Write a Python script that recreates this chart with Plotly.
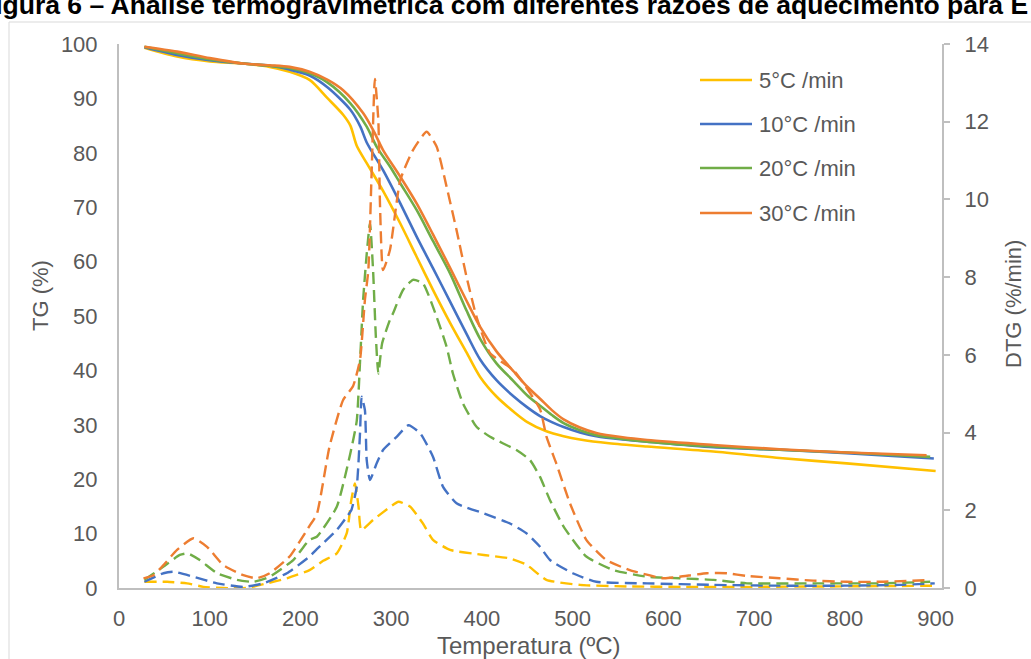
import plotly.graph_objects as go

# ---------------- data ----------------
series_names = ["5°C /min", "10°C /min", "20°C /min", "30°C /min"]
series_colors = ["#FFC000", "#4472C4", "#70AD47", "#ED7D31"]

# TG curves (left axis, %)
T_tg_5 = [28, 64, 100, 137, 166, 188, 210, 230, 247, 255, 262, 273, 291, 310, 328, 346, 365, 383, 398, 416, 435, 450, 471, 490, 508, 540, 582, 655, 728, 802, 900]
TG_5 = [99.3, 97.7, 96.8, 96.4, 95.8, 94.9, 93.4, 90.0, 87.0, 85.0, 81.3, 78.1, 73.0, 67.0, 60.9, 54.8, 48.7, 43.3, 38.8, 35.2, 32.4, 30.5, 28.8, 27.9, 27.3, 26.6, 26.0, 25.1, 23.9, 22.9, 21.5]

T_tg_10 = [28, 64, 100, 137, 166, 188, 210, 230, 255, 266, 273, 291, 310, 328, 346, 365, 383, 398, 416, 435, 450, 464, 477, 490, 508, 526, 555, 582, 655, 728, 802, 898]
TG_10 = [99.4, 98.0, 97.0, 96.4, 96.0, 95.3, 94.2, 92.0, 87.9, 84.8, 81.9, 76.8, 70.7, 64.6, 58.8, 52.6, 46.7, 42.0, 38.2, 35.2, 33.2, 31.6, 30.5, 29.6, 28.6, 27.9, 27.3, 26.9, 25.9, 25.4, 24.8, 23.8]

T_tg_20 = [28, 64, 100, 137, 166, 188, 210, 230, 255, 273, 284, 299, 310, 328, 346, 365, 383, 398, 416, 435, 450, 464, 477, 490, 508, 526, 555, 582, 655, 728, 802, 894]
TG_20 = [99.5, 98.3, 97.2, 96.4, 96.0, 95.6, 94.6, 92.9, 89.1, 84.8, 81.1, 77.4, 74.4, 69.5, 63.8, 57.8, 51.0, 45.8, 41.3, 38.0, 35.4, 33.5, 31.8, 30.3, 29.0, 28.1, 27.4, 26.9, 26.0, 25.4, 24.9, 24.1]

T_tg_30 = [28, 64, 100, 137, 166, 188, 210, 230, 247, 269, 280, 291, 310, 328, 346, 365, 383, 398, 416, 435, 450, 464, 477, 490, 508, 526, 555, 582, 655, 728, 802, 890]
TG_30 = [99.5, 98.6, 97.4, 96.4, 96.1, 95.8, 94.9, 93.4, 91.5, 87.3, 84.2, 80.5, 75.6, 70.7, 65.0, 58.8, 52.8, 48.0, 43.5, 39.8, 37.0, 34.8, 32.7, 31.0, 29.5, 28.5, 27.7, 27.2, 26.3, 25.5, 24.9, 24.4]

# DTG curves (right axis, %/min)
T_dtg_5 = [28, 53, 75, 93, 115, 140, 163, 185, 210, 225, 240, 251, 256, 260, 264, 267, 280, 299, 308, 321, 335, 346, 365, 402, 431, 449, 471, 508, 560, 620, 700, 780, 850, 900]
DTG_5 = [0.16, 0.16, 0.12, 0.03, 0.0, 0.0, 0.12, 0.25, 0.46, 0.7, 0.89, 1.41, 2.26, 2.69, 2.09, 1.49, 1.75, 2.09, 2.22, 2.09, 1.66, 1.24, 0.98, 0.85, 0.76, 0.6, 0.21, 0.08, 0.04, 0.03, 0.03, 0.04, 0.05, 0.06]

T_dtg_10 = [28, 49, 60, 82, 108, 137, 159, 185, 210, 218, 240, 251, 256, 262, 265.6, 267.4, 271, 273, 276.6, 284, 291, 306, 319, 332, 346, 357, 372, 402, 431, 449, 464, 475, 500, 526, 582, 655, 728, 800, 860, 899]
DTG_10 = [0.16, 0.38, 0.42, 0.29, 0.12, 0.03, 0.12, 0.38, 0.81, 1.0, 1.49, 1.83, 2.0, 2.6, 3.98, 4.92, 4.58, 3.29, 2.78, 3.21, 3.55, 3.89, 4.19, 3.98, 3.38, 2.61, 2.18, 1.92, 1.66, 1.41, 1.06, 0.72, 0.38, 0.16, 0.12, 0.08, 0.06, 0.06, 0.08, 0.12]

T_dtg_20 = [28, 49, 67, 76, 89, 108, 130, 148, 166, 192, 210, 218, 240, 255, 262, 266, 269, 273, 276.6, 280, 283, 285.8, 290, 298.6, 302, 313, 324, 335, 350, 361, 368, 379, 394, 409, 438, 453, 464, 475, 490, 515, 545, 582, 618, 655, 692, 765, 839, 894]
DTG_20 = [0.21, 0.55, 0.85, 0.89, 0.72, 0.38, 0.21, 0.16, 0.29, 0.72, 1.24, 1.32, 2.09, 3.47, 4.3, 6.0, 7.4, 8.6, 9.39, 8.18, 6.5, 5.52, 6.3, 6.9, 7.07, 7.67, 7.93, 7.84, 6.98, 6.21, 5.52, 4.75, 4.15, 3.89, 3.55, 3.29, 2.86, 2.26, 1.58, 0.81, 0.46, 0.29, 0.25, 0.21, 0.12, 0.12, 0.12, 0.16]

T_dtg_30 = [27, 38, 49, 64, 82, 97, 115, 137, 152, 166, 188, 210, 218, 232, 247, 258, 265.6, 271, 274.8, 278.5, 282, 285.8, 287.6, 291, 298.6, 310, 324, 339, 350, 361, 372, 383, 394, 409, 435, 464, 471, 482, 497, 515, 537, 563, 600, 618, 648, 670, 692, 728, 765, 802, 839, 890]
DTG_30 = [0.25, 0.33, 0.59, 0.98, 1.28, 1.06, 0.59, 0.33, 0.25, 0.38, 0.81, 1.6, 1.9, 3.64, 4.84, 5.2, 5.87, 7.41, 8.18, 10.76, 13.1, 12.04, 9.9, 8.18, 8.7, 10.5, 11.27, 11.74, 11.36, 10.33, 9.21, 8.01, 6.98, 6.04, 5.6, 4.6, 3.9, 3.2, 2.18, 1.24, 0.72, 0.46, 0.25, 0.29, 0.38, 0.38, 0.31, 0.25, 0.19, 0.16, 0.16, 0.2]

x_ticks = [0, 100, 200, 300, 400, 500, 600, 700, 800, 900]
y_ticks = [0, 10, 20, 30, 40, 50, 60, 70, 80, 90, 100]
y2_ticks = [0, 2, 4, 6, 8, 10, 12, 14]

title_text = "Figura 6 – Análise termogravimétrica com diferentes razões de aquecimento para E"

# ---------------- layout geometry (pixels) ----------------
W, H = 1031, 659
PL, PR, PT, PB = 119, 942, 44, 588


def fx(p):
    return (p - PL) / (PR - PL)


def fy(p):
    return (PB - p) / (PB - PT)


FONT = "Liberation Sans, Arial, sans-serif"
GREY_TXT = "#595959"
AXIS_COL = "#bfbfbf"

fig = go.Figure()

tg_T = [T_tg_5, T_tg_10, T_tg_20, T_tg_30]
tg_V = [TG_5, TG_10, TG_20, TG_30]
dtg_T = [T_dtg_5, T_dtg_10, T_dtg_20, T_dtg_30]
dtg_V = [DTG_5, DTG_10, DTG_20, DTG_30]

for name, col, xs, ys in zip(series_names, series_colors, tg_T, tg_V):
    fig.add_trace(go.Scatter(x=xs, y=ys, mode="lines", name=name,
                             line=dict(color=col, width=2.6, shape="spline", smoothing=0.8),
                             showlegend=False, yaxis="y"))

for name, col, xs, ys in zip(series_names, series_colors, dtg_T, dtg_V):
    fig.add_trace(go.Scatter(x=xs, y=ys, mode="lines", name=name + " (DTG)",
                             line=dict(color=col, width=2.4, dash="12px,6px", shape="spline", smoothing=0.5),
                             showlegend=False, yaxis="y2"))

shapes = []
annotations = []

# chart-area border
shapes.append(dict(type="rect", xref="paper", yref="paper",
                   x0=fx(9), x1=fx(1060), y0=fy(700), y1=fy(22),
                   line=dict(color="#d9d9d9", width=1), fillcolor="rgba(0,0,0,0)", layer="below"))

# legend (custom, to match the long line samples)
leg_rows = [80, 124, 168, 213]
for name, col, yy in zip(series_names, series_colors, leg_rows):
    shapes.append(dict(type="line", xref="paper", yref="paper",
                       x0=fx(700), x1=fx(752), y0=fy(yy), y1=fy(yy),
                       line=dict(color=col, width=2.6)))
    annotations.append(dict(xref="paper", yref="paper", x=fx(757), y=fy(yy),
                            xanchor="left", yanchor="middle", showarrow=False,
                            text=name, font=dict(family=FONT, size=22, color=GREY_TXT)))

# title (partially cropped, as in the reference)
annotations.append(dict(xref="paper", yref="paper", x=fx(-23), y=fy(5),
                        xanchor="left", yanchor="middle", showarrow=False,
                        text="<b>" + title_text + "</b>",
                        font=dict(family=FONT, size=26.5, color="#000000")))

# axis titles
annotations.append(dict(xref="paper", yref="paper", x=fx(528), y=fy(645),
                        xanchor="center", yanchor="middle", showarrow=False,
                        text="Temperatura (ºC)",
                        font=dict(family=FONT, size=24, color=GREY_TXT)))
annotations.append(dict(xref="paper", yref="paper", x=fx(40), y=fy(296),
                        xanchor="center", yanchor="middle", showarrow=False, textangle=-90,
                        text="TG (%)",
                        font=dict(family=FONT, size=22, color=GREY_TXT)))
annotations.append(dict(xref="paper", yref="paper", x=fx(1013), y=fy(304),
                        xanchor="center", yanchor="middle", showarrow=False, textangle=-90,
                        text="DTG (%/min)",
                        font=dict(family=FONT, size=22, color=GREY_TXT)))

fig.update_layout(
    width=W, height=H,
    margin=dict(l=PL, r=W - PR, t=PT, b=H - PB, pad=0),
    paper_bgcolor="white", plot_bgcolor="white",
    showlegend=False,
    shapes=shapes, annotations=annotations,
    xaxis=dict(range=[0, 907], tickvals=x_ticks, showgrid=False, zeroline=False,
               showline=True, linecolor=AXIS_COL, linewidth=2, ticks="",
               ticklabelstandoff=10,
               tickfont=dict(family=FONT, size=22, color=GREY_TXT)),
    yaxis=dict(range=[0, 100], tickvals=y_ticks, showgrid=False, zeroline=False,
               showline=True, linecolor=AXIS_COL, linewidth=2, ticks="",
               ticklabelstandoff=15,
               tickfont=dict(family=FONT, size=22, color=GREY_TXT)),
    yaxis2=dict(range=[0, 14], tickvals=y2_ticks, overlaying="y", side="right",
                showgrid=False, zeroline=False, showline=True, linecolor=AXIS_COL,
                linewidth=2, ticks="outside", ticklen=6, tickcolor=AXIS_COL, tickwidth=2,
                ticklabelstandoff=10,
                tickfont=dict(family=FONT, size=22, color=GREY_TXT)),
)

fig.write_html("out.html")
